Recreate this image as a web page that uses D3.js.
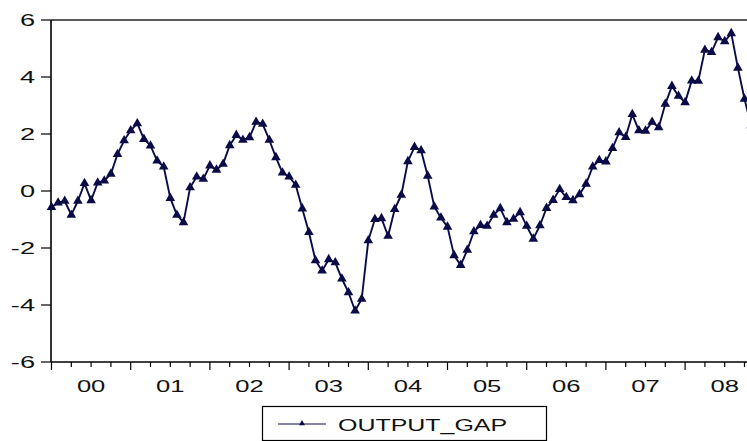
<!DOCTYPE html>
<html>
<head>
<meta charset="utf-8">
<script src="https://cdn.jsdelivr.net/npm/d3@7"></script>
<style>
  html, body { margin: 0; padding: 0; background: #fff; }
  svg { display: block; }
  text { font-family: "Liberation Sans", Arial, sans-serif; fill: #111; }
</style>
</head>
<body>
<svg id="chart" width="747" height="441"></svg>
<script>
// ---- data (monthly, starting Jan 2000) ----
const startYear = 2000;
const yearLabels = ["00", "01", "02", "03", "04", "05", "06", "07", "08"];
const yTicks = [-6, -4, -2, 0, 2, 4, 6];
const seriesName = "OUTPUT_GAP";
const outputGap = [
  -0.57, -0.41, -0.35, -0.84, -0.35, 0.27, -0.33, 0.29, 0.36, 0.60, 1.29, 1.77,
  2.12, 2.37, 1.82, 1.59, 1.06, 0.85, -0.25, -0.84, -1.10, 0.12, 0.50, 0.42,
  0.89, 0.74, 0.95, 1.60, 1.96, 1.79, 1.88, 2.42, 2.35, 1.79, 1.18, 0.64,
  0.50, 0.21, -0.62, -1.45, -2.44, -2.80, -2.40, -2.51, -3.08, -3.56, -4.20, -3.79,
  -1.74, -0.99, -0.96, -1.58, -0.64, -0.14, 1.04, 1.54, 1.42, 0.53, -0.55, -0.94,
  -1.26, -2.26, -2.60, -2.07, -1.42, -1.20, -1.23, -0.84, -0.61, -1.10, -0.98, -0.75,
  -1.23, -1.68, -1.21, -0.60, -0.32, 0.06, -0.22, -0.33, -0.12, 0.25, 0.85, 1.08,
  1.03, 1.50, 2.05, 1.89, 2.69, 2.12, 2.11, 2.42, 2.23, 3.05, 3.68, 3.33,
  3.11, 3.87, 3.86, 4.95, 4.87, 5.39, 5.25, 5.53, 4.32, 3.23, 2.30
];
const months = outputGap.map((_, i) => (startYear + Math.floor(i / 12)) + "M" + String(i % 12 + 1).padStart(2, "0"));

// ---- layout ----
const svg = d3.select("#chart");
const plotLeft = 51, plotTop = 20, plotBottom = 362;
const monthsSpan = yearLabels.length * 12;
const monthW = 6.6;
const plotRight = plotLeft + monthsSpan * monthW;   // extends past the visible window
const lineColor = "#0b0b48";

const x = d3.scaleLinear().domain([0, monthsSpan]).range([plotLeft + 0.5, plotRight + 0.5]);
const y = d3.scaleLinear().domain([-6, 6]).range([plotBottom, plotTop]);

function stretchedText(g, tx, ty, str, anchor, size, sx) {
  g.append("text")
    .attr("transform", `translate(${tx},${ty}) scale(${sx},1)`)
    .attr("text-anchor", anchor)
    .attr("font-size", size)
    .text(str);
}

const axisG = svg.append("g");

// frame: top and left lines, bottom axis
axisG.append("line").attr("x1", plotLeft).attr("x2", 747).attr("y1", plotTop).attr("y2", plotTop)
  .attr("stroke", "#222").attr("stroke-width", 1.3);
axisG.append("line").attr("x1", plotLeft).attr("x2", plotLeft).attr("y1", plotTop).attr("y2", plotBottom)
  .attr("stroke", "#000").attr("stroke-width", 1.6);
axisG.append("line").attr("x1", plotLeft).attr("x2", plotRight).attr("y1", plotBottom).attr("y2", plotBottom)
  .attr("stroke", "#000").attr("stroke-width", 1.6);

// y ticks and labels
yTicks.forEach(v => {
  axisG.append("line").attr("x1", plotLeft - 10).attr("x2", plotLeft).attr("y1", y(v)).attr("y2", y(v))
    .attr("stroke", "#000").attr("stroke-width", 1.2);
  stretchedText(axisG, 35, y(v) + 5.5, String(v), "end", 16, 1.7);
});

// x ticks: quarterly minor, yearly major
d3.range(0, monthsSpan + 1, 3).forEach(m => {
  const major = m % 12 === 0;
  axisG.append("line").attr("x1", x(m)).attr("x2", x(m))
    .attr("y1", plotBottom).attr("y2", plotBottom + (major ? 8 : 5))
    .attr("stroke", "#000").attr("stroke-width", 1.2);
});
yearLabels.forEach((lab, k) => {
  stretchedText(axisG, x(k * 12 + 6), 392, lab, "middle", 16, 1.6);
});

// series line + markers
const line = d3.line().x((d, i) => x(i)).y(d => y(d));
svg.append("path").datum(outputGap)
  .attr("d", line).attr("fill", "none")
  .attr("stroke", lineColor).attr("stroke-width", 1.9).attr("stroke-linejoin", "round");

const tri = d3.symbol().type(d3.symbolTriangle).size(40);
svg.append("g").selectAll("path").data(outputGap).join("path")
  .attr("transform", (d, i) => `translate(${x(i)},${y(d)})`)
  .attr("d", tri).attr("fill", lineColor);

// legend
const lg = svg.append("g");
lg.append("rect").attr("x", 262.5).attr("y", 406.5).attr("width", 284).attr("height", 34)
  .attr("fill", "#fff").attr("stroke", "#000").attr("stroke-width", 1.2);
lg.append("line").attr("x1", 278).attr("x2", 326).attr("y1", 424).attr("y2", 424)
  .attr("stroke", lineColor).attr("stroke-width", 1.2);
lg.append("path").attr("transform", "translate(302,423.5)")
  .attr("d", d3.symbol().type(d3.symbolTriangle).size(16)).attr("fill", lineColor);
stretchedText(lg, 338, 431, seriesName, "start", 16, 1.56);
</script>
</body>
</html>
